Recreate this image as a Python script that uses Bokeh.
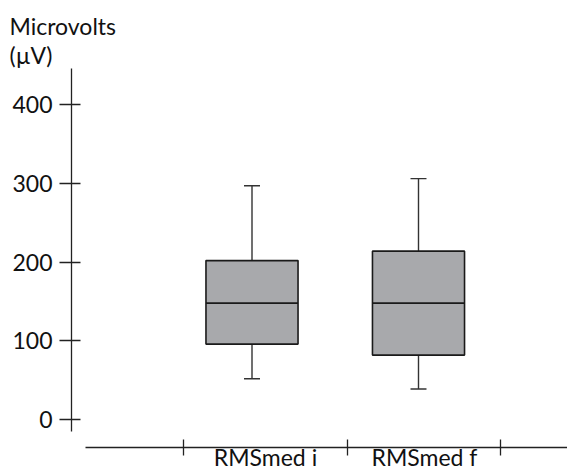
import numpy as np
from bokeh.plotting import figure
from bokeh.models import Range1d, FixedTicker
from bokeh.embed import file_html
from bokeh.resources import INLINE

# ---- data ----
categories = ["RMSmed i", "RMSmed f"]
whisker_low = [52, 39]
q1 = [96, 82]
median = [148, 148]
q3 = [202, 214]
whisker_high = [297, 306]
y_ticks = [0, 100, 200, 300, 400]

# ---- layout constants ----
FONT = "Lato"
box_x = np.array([1.0, 2.0])
box_w = 0.553
cap_w = 0.096
label_x = [1.081, 2.036]
boundaries = [0.5886, 1.5736, 2.4925]
X_MIN, X_MAX = -0.0841, 2.8949
Y_MIN, Y_MAX = -35.25, 445.8

p = figure(width=567, height=473, output_backend="svg", toolbar_location=None,
           x_range=Range1d(X_MIN, X_MAX), y_range=Range1d(Y_MIN, Y_MAX),
           min_border_left=71, min_border_right=0, min_border_top=68, min_border_bottom=20)
p.background_fill_color = "white"
p.border_fill_color = "white"
p.outline_line_color = None
p.xgrid.visible = False
p.ygrid.visible = False

# title (two lines)
p.title.text = "Microvolts\n(\u00b5V)"
p.title.text_font = FONT
p.title.text_font_size = "23px"
p.title.text_font_style = "normal"
p.title.text_color = "#111111"
p.title.text_line_height = 1.05
p.title.align = "left"
p.title.offset = -62
p.title.standoff = -2

lo = np.array(whisker_low, float)
hi = np.array(whisker_high, float)
b1 = np.array(q1, float)
b3 = np.array(q3, float)
md = np.array(median, float)

# whiskers
p.segment(x0=box_x, y0=b3, x1=box_x, y1=hi, line_color="#333333", line_width=1.4)
p.segment(x0=box_x, y0=b1, x1=box_x, y1=lo, line_color="#333333", line_width=1.4)
p.segment(x0=box_x - cap_w / 2, y0=hi, x1=box_x + cap_w / 2, y1=hi, line_color="#333333", line_width=1.4)
p.segment(x0=box_x - cap_w / 2, y0=lo, x1=box_x + cap_w / 2, y1=lo, line_color="#333333", line_width=1.4)
# boxes
p.vbar(x=box_x, width=box_w, bottom=b1, top=b3, fill_color="#a8a9ac",
       line_color="#1a1a1a", line_width=1.6)
p.segment(x0=box_x - box_w / 2, y0=md, x1=box_x + box_w / 2, y1=md, line_color="#1a1a1a", line_width=1.6)

# y axis
ya = p.yaxis[0]
ya.ticker = FixedTicker(ticks=y_ticks, minor_ticks=[])
ya.bounds = (-14.9, Y_MAX)
ya.axis_line_color = "#222222"
ya.axis_line_width = 1.3
ya.major_tick_line_color = "#222222"
ya.major_tick_line_width = 1.3
ya.major_tick_out = 12
ya.major_tick_in = 9
ya.minor_tick_line_color = None
ya.major_label_standoff = 7
ya.major_label_text_font = FONT
ya.major_label_text_font_size = "23px"
ya.major_label_text_color = "#111111"

# x axis
xa = p.xaxis[0]
xa.ticker = FixedTicker(ticks=label_x, minor_ticks=boundaries)
xa.major_label_overrides = {label_x[i]: categories[i] for i in range(len(categories))}
xa.bounds = (0.0, X_MAX)
xa.axis_line_color = "#222222"
xa.axis_line_width = 1.3
xa.major_tick_line_color = None
xa.major_tick_out = 0
xa.major_tick_in = 0
xa.minor_tick_line_color = "#222222"
xa.minor_tick_line_width = 1.3
xa.minor_tick_out = 8
xa.minor_tick_in = 8
xa.major_label_standoff = -13
xa.major_label_text_font = FONT
xa.major_label_text_font_size = "23px"
xa.major_label_text_color = "#111111"

open("out.html", "w").write(file_html(p, INLINE))
